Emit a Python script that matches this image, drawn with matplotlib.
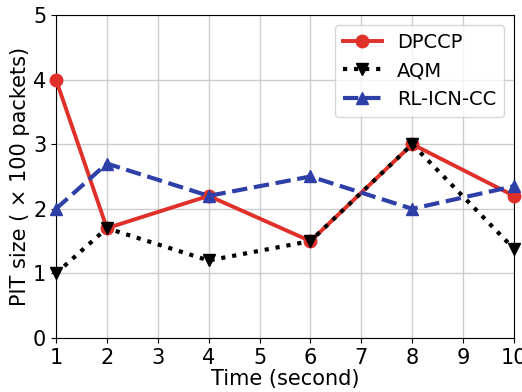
import matplotlib
matplotlib.use("Agg")
import matplotlib.pyplot as plt

time = [1, 2, 4, 6, 8, 10]
dpccp = [4.0, 1.7, 2.2, 1.5, 3.0, 2.2]
aqm = [1.0, 1.7, 1.2, 1.5, 3.0, 1.38]
rlicn = [2.0, 2.7, 2.2, 2.5, 2.0, 2.35]
xticks = list(range(1, 11))
yticks = [0, 1, 2, 3, 4, 5]

fig = plt.figure(figsize=(5.22, 3.92), dpi=100)
ax = fig.add_axes([56/522, 54/392, (514-56)/522, (338-15)/392])

ax.plot(time, dpccp, color='#e0302a', linestyle='-', marker='o', linewidth=2.8, markersize=9, label='DPCCP', clip_on=False, zorder=3)
ax.plot(time, aqm, color='black', linestyle=':', marker='v', linewidth=3, markersize=9, label='AQM', clip_on=False, zorder=4)
ax.plot(time, rlicn, color='#2e3fa8', linestyle='--', marker='^', linewidth=3, markersize=9, label='RL-ICN-CC', clip_on=False, zorder=5)

ax.set_xlim(1, 10)
ax.set_ylim(0, 5)
ax.set_xticks(xticks)
ax.set_yticks(yticks)
ax.tick_params(labelsize=15)
ax.grid(True, color='#cccccc', linewidth=1)
ax.set_axisbelow(True)
ax.set_xlabel('Time (second)', fontsize=15, labelpad=1)
ax.set_ylabel('PIT size ( × 100 packets)', fontsize=15, labelpad=2)
ax.legend(loc='upper right', fontsize=14, borderaxespad=0.5)

fig.savefig('out.png', dpi=100)
